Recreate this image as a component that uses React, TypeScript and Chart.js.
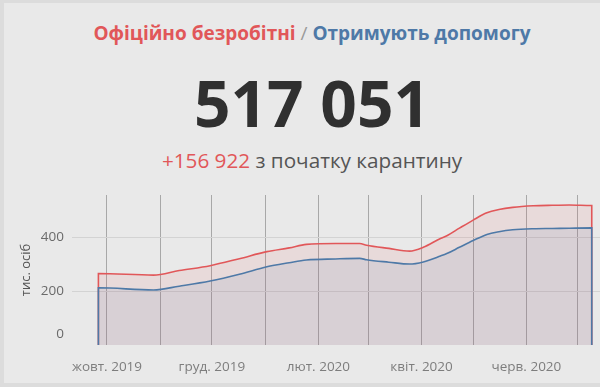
import React, { useEffect, useRef } from 'react';
import { Chart, registerables } from 'chart.js';

Chart.register(...registerables);

const dates = [
  '2019-09-26', '2019-10-28', '2019-11-12', '2019-11-30', '2019-12-17',
  '2020-01-02', '2020-01-15', '2020-01-25', '2020-02-11', '2020-02-25',
  '2020-02-29', '2020-03-13', '2020-03-25', '2020-04-02', '2020-04-12',
  '2020-04-16', '2020-04-23', '2020-05-01', '2020-05-09', '2020-05-16',
  '2020-05-24', '2020-06-05', '2020-06-16', '2020-06-26', '2020-07-09',
];

// Офіційно безробітні, тис. осіб
const registered = [
  265, 259, 276, 294, 320,
  346, 360, 373, 376, 376,
  370, 358, 348, 362, 395,
  406, 433, 463, 490, 502,
  510, 516, 518, 519, 517,
];

// Отримують допомогу, тис. осіб
const receivingAid = [
  212, 204, 218, 237, 262,
  290, 305, 315, 319, 321,
  316, 307, 300, 308, 330,
  340, 362, 387, 410, 420,
  427, 431, 432, 433, 434,
];

const monthStarts = [
  '2019-10-01', '2019-11-01', '2019-12-01', '2020-01-01', '2020-02-01',
  '2020-03-01', '2020-04-01', '2020-05-01', '2020-06-01', '2020-07-01',
];
const monthLabels = [
  'жовт. 2019', '', 'груд. 2019', '', 'лют. 2020',
  '', 'квіт. 2020', '', 'черв. 2020', '',
];
const yTicks = [0, 200, 400];

const RED = '#e15759';
const BLUE = '#4e79a7';
const FONT = '"Open Sans", "Noto Sans", sans-serif';

const ORIGIN = Date.parse('2019-10-01T00:00:00Z');
const dayOf = (s: string) => (Date.parse(s + 'T00:00:00Z') - ORIGIN) / 86400000;

const toPoints = (vals: number[]) => {
  const pts = dates.map((d, i) => ({ x: dayOf(d), y: vals[i] }));
  return [{ x: pts[0].x, y: 0 }, ...pts, { x: pts[pts.length - 1].x, y: 0 }];
};

const yLabelPlugin = {
  id: 'yLabels',
  afterDraw(chart: any) {
    const y = chart.scales.y;
    const ctx = chart.ctx;
    ctx.save();
    ctx.font = `13.5px ${FONT}`;
    ctx.fillStyle = '#6a6a6a';
    ctx.textAlign = 'right';
    ctx.textBaseline = 'middle';
    yTicks.forEach((v) => {
      let py = y.getPixelForValue(v);
      py = Math.min(py, chart.chartArea.bottom - 11);
      ctx.fillText(String(v), 64, py);
    });
    ctx.restore();
  },
};

export default function App() {
  const ref = useRef<HTMLCanvasElement>(null);

  useEffect(() => {
    document.body.style.margin = '0';
    const canvas = ref.current;
    if (!canvas) return;
    const chart = new Chart(canvas, {
      type: 'line',
      data: {
        datasets: [
          {
            label: 'Отримують допомогу',
            data: toPoints(receivingAid),
            borderColor: BLUE,
            backgroundColor: 'rgba(78,121,167,0.10)',
            borderWidth: 1.6,
            fill: 'origin',
            pointRadius: 0,
            cubicInterpolationMode: 'monotone',
          },
          {
            label: 'Офіційно безробітні',
            data: toPoints(registered),
            borderColor: RED,
            backgroundColor: 'rgba(225,87,89,0.10)',
            borderWidth: 1.6,
            fill: 'origin',
            pointRadius: 0,
            cubicInterpolationMode: 'monotone',
          },
        ],
      },
      options: {
        responsive: false,
        animation: false,
        events: [],
        layout: { padding: { top: 195, left: 0, right: 0, bottom: 0 } },
        plugins: {
          legend: { display: false },
          tooltip: { enabled: false },
        },
        scales: {
          x: {
            type: 'linear',
            min: -20.36,
            max: 286.8,
            grid: { color: '#a8a8a8', lineWidth: 1, drawTicks: false },
            border: { display: false },
            afterBuildTicks: (s: any) => {
              s.ticks = monthStarts.map((m) => ({ value: dayOf(m) }));
            },
            afterFit: (s: any) => {
              s.height = 42;
            },
            ticks: {
              autoSkip: false,
              maxRotation: 0,
              padding: 14,
              color: '#7d7d7d',
              font: { family: FONT, size: 13.5 },
              callback: (_v: any, i: number) => monthLabels[i],
            },
          },
          y: {
            min: 0,
            max: 556,
            grid: {
              color: (c: any) => (c.tick && c.tick.value === 0 ? 'rgba(0,0,0,0)' : '#d3d3d3'),
              drawTicks: false,
            },
            border: { display: false },
            afterBuildTicks: (s: any) => {
              s.ticks = yTicks.map((v) => ({ value: v }));
            },
            afterFit: (s: any) => {
              s.width = 72;
            },
            ticks: { display: false },
            title: {
              display: true,
              text: 'тис. осіб',
              color: '#555',
              font: { family: FONT, size: 13 },
              padding: { top: 18, bottom: 0 },
            },
          },
        },
      },
      plugins: [yLabelPlugin],
    });
    return () => chart.destroy();
  }, []);

  const center: React.CSSProperties = {
    position: 'absolute',
    left: 12,
    width: 600,
    textAlign: 'center',
    fontFamily: FONT,
    whiteSpace: 'nowrap',
  };

  return (
    <div style={{ position: 'relative', width: 600, height: 387, background: '#dcdcdc', overflow: 'hidden' }}>
      <div style={{ position: 'absolute', left: 4, top: 3, right: 0, height: 380, background: '#e9e9e9' }} />
      <div style={{ ...center, top: 21, fontSize: 19, lineHeight: '24px', fontWeight: 700 }}>
        <span style={{ color: RED }}>Офіційно безробітні</span>
        <span style={{ color: '#9a9a9a', fontWeight: 400 }}> / </span>
        <span style={{ color: BLUE }}>Отримують допомогу</span>
      </div>
      <div style={{ ...center, top: 71, fontSize: 64, lineHeight: '64px', fontWeight: 700, color: '#303030' }}>
        517 051
      </div>
      <div style={{ ...center, top: 146, fontSize: 20.7, lineHeight: '28px', color: '#555' }}>
        <span style={{ color: RED }}>+156 922</span> з початку карантину
      </div>
      <canvas ref={ref} width={600} height={387} style={{ position: 'absolute', left: 0, top: 0 }} />
    </div>
  );
}
